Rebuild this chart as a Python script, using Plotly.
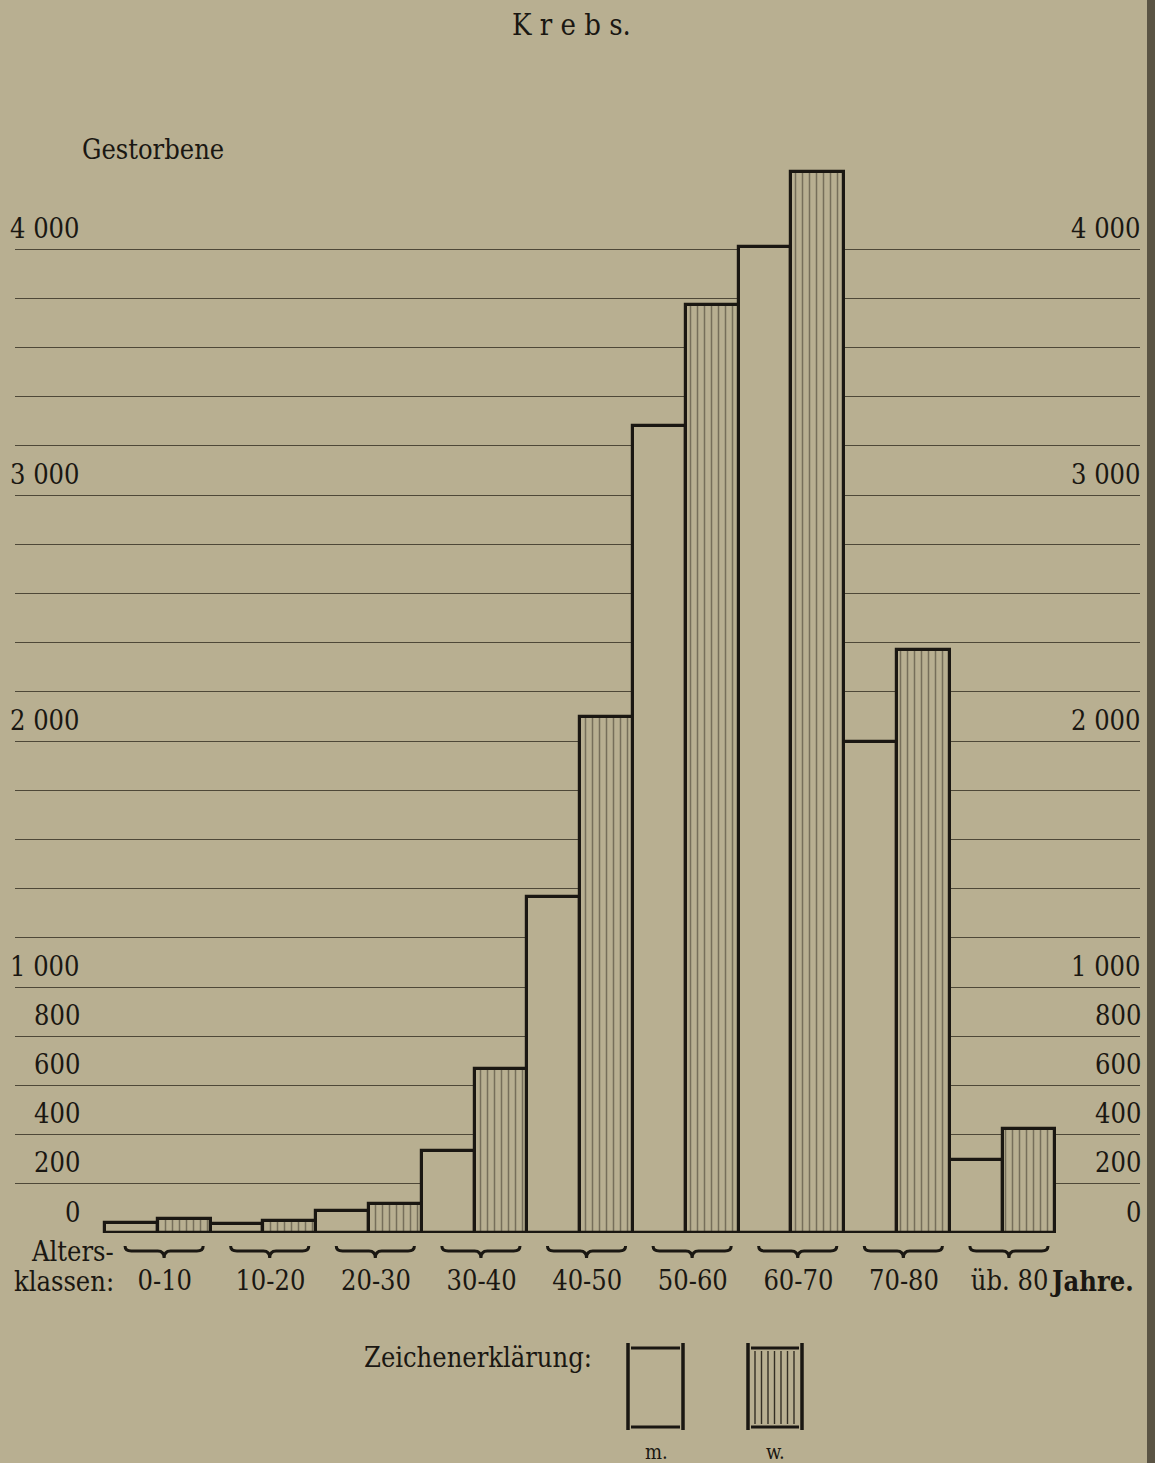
import plotly.graph_objects as go

# ---- data ----
klassen = ["0-10", "10-20", "20-30", "30-40", "40-50", "50-60", "60-70", "70-80", "üb. 80"]
maenner = [41, 36, 89, 333, 1366, 3280, 4008, 1996, 297]
frauen = [57, 49, 117, 667, 2098, 3772, 4313, 2370, 423]
grid_vals = list(range(0, 4001, 200))
label_vals = [0, 200, 400, 600, 800, 1000, 2000, 3000, 4000]
label_txt = ["0", "200", "400", "600", "800", "1 000", "2 000", "3 000", "4 000"]

PAPER = "#b8af91"
INK = "#1a1712"
GRID = "#4e4838"
FONT = "DejaVu Serif Condensed, Liberation Serif, serif"
FS = 27

W, H = 1155, 1463
ML, MR, MT, MB = 15, 15, 150, 230
PW, PH = W - ML - MR, H - MT - MB


def px(xp):
    return (xp - ML) / PW


def py(yp):
    return (H - MB - yp) / PH


xs = list(range(len(klassen)))

fig = go.Figure()
fig.add_trace(go.Bar(
    x=xs, y=maenner, name="m.",
    marker=dict(color=PAPER, line=dict(color=INK, width=3.2)),
))
fig.add_trace(go.Bar(
    x=xs, y=frauen, name="w.",
    marker=dict(color=PAPER, line=dict(color=INK, width=3.2),
                pattern=dict(shape="|", fgcolor="#332e24", bgcolor=PAPER,
                             size=7, solidity=0.22)),
))

ymax = (H - MB - MT) / 0.246

fig.update_layout(
    width=W, height=H,
    margin=dict(l=ML, r=MR, t=MT, b=MB),
    paper_bgcolor=PAPER, plot_bgcolor=PAPER,
    barmode="group", bargap=0, bargroupgap=0,
    showlegend=False,
    font=dict(family=FONT, color=INK, size=FS),
    xaxis=dict(range=[-1.352, 9.301], tickvals=xs, ticktext=klassen,
               showgrid=False, zeroline=False, showline=False,
               ticks="outside", ticklen=24, tickcolor="rgba(0,0,0,0)",
               ticklabelshift=7,
               tickfont=dict(family=FONT, size=FS, color=INK)),
    yaxis=dict(range=[0, ymax], tickvals=grid_vals, showticklabels=False,
               showgrid=True, gridcolor=GRID, gridwidth=1.2,
               zeroline=False, showline=False, ticks=""),
)

ann = []
for v, t in zip(label_vals, label_txt):
    ann.append(dict(x=px(82), y=v, xref="paper", yref="y", text=t,
                    showarrow=False, xanchor="right", yanchor="middle",
                    yshift=21, font=dict(size=FS)))
    ann.append(dict(x=px(1143), y=v, xref="paper", yref="y", text=t,
                    showarrow=False, xanchor="right", yanchor="middle",
                    yshift=21, font=dict(size=FS)))

ann += [
    dict(x=px(571), y=py(25), xref="paper", yref="paper", text="K r e b s.",
         showarrow=False, xanchor="center", yanchor="middle", font=dict(size=29)),
    dict(x=px(80), y=py(149), xref="paper", yref="paper", text="Gestorbene",
         showarrow=False, xanchor="left", yanchor="middle", font=dict(size=FS)),
    dict(x=px(116), y=py(1251), xref="paper", yref="paper", text="Alters-",
         showarrow=False, xanchor="right", yanchor="middle", font=dict(size=FS)),
    dict(x=px(12), y=py(1281), xref="paper", yref="paper", text="klassen:",
         showarrow=False, xanchor="left", yanchor="middle", font=dict(size=FS)),
    dict(x=px(1048), y=py(1281), xref="paper", yref="paper", text="<b>Jahre.</b>",
         showarrow=False, xanchor="left", yanchor="middle", font=dict(size=FS)),
    dict(x=px(594), y=py(1357), xref="paper", yref="paper", text="Zeichenerklärung:",
         showarrow=False, xanchor="right", yanchor="middle", font=dict(size=FS)),
    dict(x=px(656), y=py(1452), xref="paper", yref="paper", text="m.",
         showarrow=False, xanchor="center", yanchor="middle", font=dict(size=20)),
    dict(x=px(775), y=py(1452), xref="paper", yref="paper", text="w.",
         showarrow=False, xanchor="center", yanchor="middle", font=dict(size=20)),
]

shapes = []
# thick baseline under bars
shapes.append(dict(type="line", xref="x", yref="y", x0=-0.5, x1=len(klassen) - 0.5,
                   y0=0, y1=0, line=dict(color=INK, width=4), layer="above"))
# braces under each class
yt, ym, yb = py(1246), py(1251), py(1258)
for i in xs:
    c = i + 0.06
    x0, x1, xc, d = c - 0.37, c + 0.37, c, 0.06
    path = (f"M {x0},{yt} Q {x0},{ym} {x0 + d},{ym} L {xc - d},{ym} "
            f"Q {xc},{ym} {xc},{yb} Q {xc},{ym} {xc + d},{ym} "
            f"L {x1 - d},{ym} Q {x1},{ym} {x1},{yt}")
    shapes.append(dict(type="path", xref="x", yref="paper", path=path,
                       line=dict(color=INK, width=3)))

# legend boxes
for (l, r), hatch in [((628, 683), False), ((748, 802), True)]:
    top, bot = py(1343), py(1430)
    shapes.append(dict(type="line", xref="paper", yref="paper", x0=px(l), x1=px(l),
                       y0=top, y1=bot, line=dict(color=INK, width=3.5)))
    shapes.append(dict(type="line", xref="paper", yref="paper", x0=px(r), x1=px(r),
                       y0=top, y1=bot, line=dict(color=INK, width=3.5)))
    shapes.append(dict(type="line", xref="paper", yref="paper", x0=px(l + 3), x1=px(r - 3),
                       y0=py(1348), y1=py(1348), line=dict(color=INK, width=3)))
    shapes.append(dict(type="line", xref="paper", yref="paper", x0=px(l + 3), x1=px(r - 3),
                       y0=py(1427), y1=py(1427), line=dict(color=INK, width=3)))
    if hatch:
        xh = l + 7
        while xh < r - 4:
            shapes.append(dict(type="line", xref="paper", yref="paper", x0=px(xh), x1=px(xh),
                               y0=py(1351), y1=py(1424),
                               line=dict(color="#332e24", width=1.4)))
            xh += 6.5

# dark page edge of the scan at the right
shapes.append(dict(type="rect", xref="paper", yref="paper", x0=px(1147), x1=px(1160),
                   y0=py(-5), y1=py(1470), line=dict(width=0), fillcolor="#5a5444",
                   layer="above"))

fig.update_layout(annotations=ann, shapes=shapes)
fig.write_html("out.html", config={"displayModeBar": False},
               post_script="document.body.style.margin='0';document.body.style.background='%s';" % PAPER)
